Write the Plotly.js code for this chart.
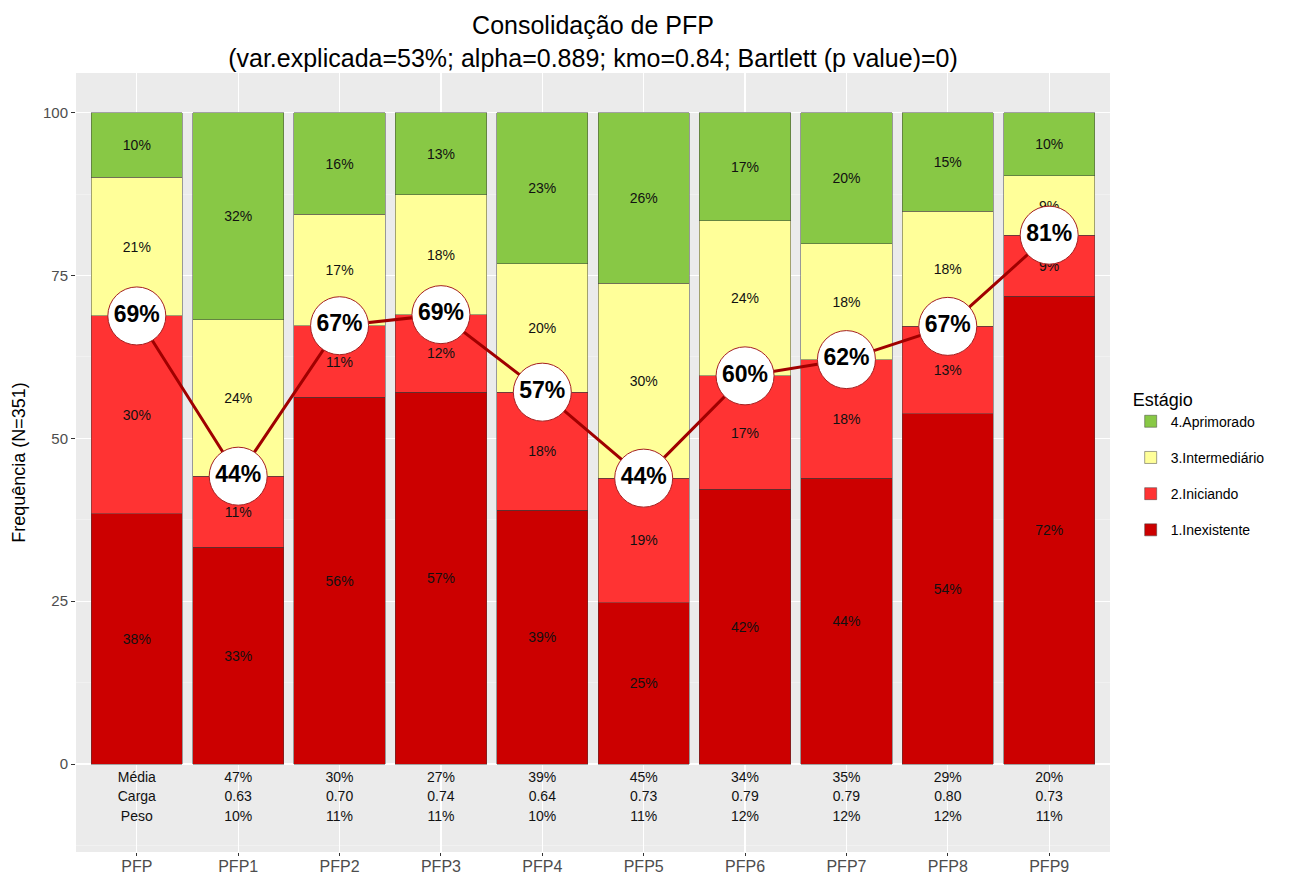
<!DOCTYPE html>
<html><head><meta charset="utf-8">
<script src="https://cdn.plot.ly/plotly-3.0.1.min.js"></script>
<style>body{margin:0;background:#fff}</style>
</head><body><div id="chart" style="width:1290px;height:879px"></div>
<script>
const categories = ['PFP','PFP1','PFP2','PFP3','PFP4','PFP5','PFP6','PFP7','PFP8','PFP9'];
const stageNames = ['1.Inexistente','2.Iniciando','3.Intermediário','4.Aprimorado'];
const inexistente   = [38.4, 33.3, 56.3, 57.1, 39.0, 24.8, 42.2, 43.9, 53.8, 71.8];
const iniciando     = [30.4, 10.9, 11.0, 11.9, 18.1, 19.1, 17.4, 18.2, 13.4,  9.4];
const intermediario = [21.3, 24.0, 17.1, 18.4, 19.7, 29.9, 23.8, 17.8, 17.7,  9.1];
const aprimorado    = [ 9.9, 31.8, 15.6, 12.6, 23.2, 26.2, 16.6, 20.1, 15.1,  9.7];
const rowLabels = ['Média','Carga','Peso'];
const media = [47, 30, 27, 39, 45, 34, 35, 29, 20];
const carga = [0.63, 0.70, 0.74, 0.64, 0.73, 0.79, 0.79, 0.80, 0.73];
const peso  = [10, 11, 11, 10, 11, 12, 12, 12, 11];
const stageColors = ['#CC0000','#FF3333','#FFFF99','#88C845'];

const FONT = 'Liberation Sans, Arial, sans-serif';
const series = [inexistente, iniciando, intermediario, aprimorado];
const traces = series.map((vals, i) => ({
  type: 'bar', x: categories, y: vals, name: stageNames[i],
  legendgroup: 'g' + i, legendrank: 4 - i,
  marker: {color: stageColors[i], line: {color: 'rgba(60,60,60,0.8)', width: 0.6}},
  width: 0.9,
  text: vals.map(v => Math.round(v) + '%'),
  textposition: 'inside', insidetextanchor: 'middle', textangle: 0,
  insidetextfont: {family: FONT, size: 14, color: '#111'},
  constraintext: 'none',
  hoverinfo: 'skip'
}));

const consolidated = inexistente.map((v, i) => v + iniciando[i]);
traces.push({
  type: 'scatter', mode: 'lines+markers+text', x: categories, y: consolidated,
  showlegend: false,
  line: {color: '#A00000', width: 3},
  marker: {size: 58, color: 'white', line: {color: '#A52020', width: 1}},
  text: consolidated.map(v => Math.round(v) + '%'),
  textposition: 'middle center',
  textfont: {family: FONT, size: 23, color: '#000', weight: 'bold'},
  hoverinfo: 'skip'
});

const rows = [
  [rowLabels[0]].concat(media.map(v => v + '%')),
  [rowLabels[1]].concat(carga.map(v => v.toFixed(2))),
  [rowLabels[2]].concat(peso.map(v => v + '%'))
];
const rowY = [-2.2, -5.1, -8.2];
rows.forEach((r, k) => traces.push({
  type: 'scatter', mode: 'text', x: categories, y: categories.map(() => rowY[k]),
  text: r, textposition: 'middle center', showlegend: false,
  textfont: {family: FONT, size: 14, color: '#111'}, hoverinfo: 'skip', cliponaxis: false
}));

const layout = {
  width: 1290, height: 879,
  margin: {l: 76, r: 180, t: 73, b: 27},
  paper_bgcolor: 'white', plot_bgcolor: '#EBEBEB',
  barmode: 'stack', bargap: 0.1,
  font: {family: FONT, color: '#333'},
  title: {
    text: 'Consolidação de PFP<br>(var.explicada=53%; alpha=0.889; kmo=0.84; Bartlett (p value)=0)',
    font: {family: FONT, size: 25, color: '#000'},
    x: 0.5, xref: 'paper', xanchor: 'center', y: 0.961, yref: 'container', yanchor: 'middle'
  },
  xaxis: {
    range: [-0.6, 9.6], showgrid: true, gridcolor: 'white', gridwidth: 1.2,
    ticks: 'outside', ticklen: 3, tickcolor: '#333', zeroline: false,
    ticklabelstandoff: -3,
    tickfont: {family: FONT, size: 16, color: '#4D4D4D'}, automargin: false, fixedrange: true
  },
  yaxis: {
    range: [-13.5, 106.1], tickvals: [0, 25, 50, 75, 100],
    showgrid: true, gridcolor: 'white', gridwidth: 1.2, zeroline: false,
    minor: {tickvals: [-12.5, 12.5, 37.5, 62.5, 87.5], showgrid: true, gridcolor: '#F5F5F5', gridwidth: 0.6},
    ticks: 'outside', ticklen: 4, tickcolor: '#333',
    tickfont: {family: FONT, size: 15, color: '#4D4D4D'},
    title: {text: 'Frequência (N=351)', font: {family: FONT, size: 18, color: '#000'}, standoff: 12},
    automargin: false, fixedrange: true
  },
  legend: {
    x: 1.02, xanchor: 'left', y: 0.603, yanchor: 'top',
    traceorder: 'grouped', tracegroupgap: 15,
    title: {text: 'Estágio', font: {family: FONT, size: 18, color: '#000'}},
    font: {family: FONT, size: 14, color: '#000'},
    bgcolor: 'white', itemwidth: 30
  },
  showlegend: true
};
Plotly.newPlot('chart', traces, layout, {displayModeBar: false, staticPlot: true});
</script></body></html>
